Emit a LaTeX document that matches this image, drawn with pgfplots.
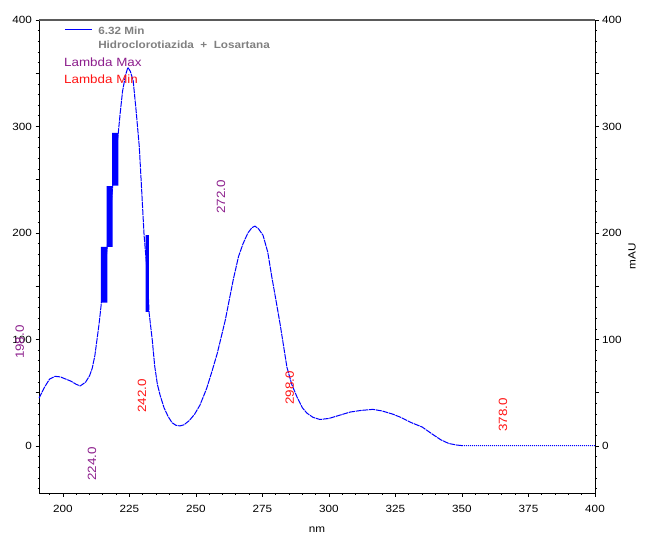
\documentclass[border=0pt]{standalone}
\usepackage{fontspec}
\setmainfont{Liberation Sans}[FakeStretch=1.12]
\usepackage{pgfplots}
\usepackage{pgfplotstable}
\pgfplotsset{compat=1.18}
\definecolor{curve}{RGB}{0,0,255}
\definecolor{lmax}{RGB}{140,30,140}
\definecolor{lmin}{RGB}{255,20,20}
\definecolor{leggray}{RGB}{128,128,128}
\definecolor{topgray}{RGB}{90,90,90}

\pgfplotstableread{
x y
191 45
193 55
195 63
197 65.5
199 65
201 63
203 61
205 58
206.5 56.5
208.5 60
210 66
211 73
212 85
212.8 100
213.6 115
214.3 131
215.5 160
216.7 188
217.7 215
218.7 244
219.7 270
220.8 294
221.5 312
222.4 333
223.5 348
224.4 355.5
225.3 352
226.4 343
227.5 315
228.7 281
229.6 240
230.5 198
231.7 162
232.4 125
233.6 99
234.5 75
235.5 58
236.5 48
238 36
239.5 28
241 22
242.5 19.5
244 19
245.5 20
247.5 24
249.5 30
251.5 38.5
254 54
256 70
258 87
261 118
264 156
266 178
267.7 190
269.5 200
271 205
272.2 206.5
273.5 204
275.2 198
277 182
278.5 159
280 138
281.6 115
283 93
284.2 74
286 58
288 46
290 36
291.7 31
294 27
296.6 25
300 26
304 29
308 32
312 33.5
316.5 34.5
320 33
324 30
327 27
331 22
335 18
339 11
342 6
345 2.5
348 1
350 0.5
}\spectrum

\pgfplotstableread{
x y
350 0.5
360 0.4
370 0.4
380 0.4
390 0.4
400 0.4
}\tail

\begin{document}
\begin{tikzpicture}
\pgfplotsset{
 base/.style={
  scale only axis, width=556bp, height=473bp,
  xmin=191, xmax=400, ymin=-44, ymax=400,
  axis line style={-, black, line width=0.8bp},
  tick align=outside,
  major tick length=3.5bp, minor tick length=1.5bp,
  every tick/.style={black, line width=0.8bp},
  every minor tick/.style={black, line width=0.8bp},
  tick label style={font=\fontsize{10.5}{12}\selectfont},
  /pgf/number format/assume math mode=true,
  ytick={0,50,...,400}, yticklabels={0,,100,,200,,300,,400},
  minor ytick={-40,-30,...,390},
  xtick={200,225,...,400},
  minor xtick={195,200,...,400},
 }
}
\begin{axis}[base, clip=false,
  axis y line*=left, axis x line*=bottom,
  xticklabel style={yshift=-5bp},
  xlabel={nm}, xlabel style={font=\fontsize{10.5}{12}\selectfont, at={(axis description cs:0.5,0)}, anchor=center, yshift=-37bp},
]
\coordinate (SW) at (rel axis cs:0,0);
\coordinate (NE) at (rel axis cs:1,1);
\draw[topgray, line width=1.6bp] (rel axis cs:0,1) -- (rel axis cs:1,1);

\addplot[fill=curve, draw=none] coordinates {(214.3,134.6) (216.7,134.6) (216.7,187) (214.3,187) (214.3,134.6)};
\addplot[fill=curve, draw=none] coordinates {(216.4,187) (218.7,187) (218.7,244) (216.4,244) (216.4,187)};
\addplot[fill=curve, draw=none] coordinates {(218.5,244.6) (220.8,244.6) (220.8,294) (218.5,294) (218.5,244.6)};
\addplot[fill=curve, draw=none] coordinates {(231.1,126) (232.3,126) (232.3,198) (231.1,198) (231.1,126)};

\addplot[curve, line width=1bp, dash pattern=on 6bp off 0.8bp] table[x=x,y=y] {\spectrum};
\addplot[curve, line width=1bp, dash pattern=on 1bp off 1bp] table[x=x,y=y] {\tail};

% legend
\draw[curve, line width=0.9bp] (axis cs:200.75,391.5) -- (axis cs:210.9,391.5);
\node[anchor=west, text=leggray, inner sep=0pt, font=\bfseries\fontsize{10.5}{12}\selectfont] at (axis cs:213.2,389.7) {6.32 Min};
\node[anchor=west, text=leggray, inner sep=0pt, font=\bfseries\fontsize{10.5}{12}\selectfont] at (axis cs:213.2,376.5) {Hidroclorotiazida \ + \ Losartana};
\node[anchor=west, text=lmax, inner sep=0pt, font=\fontsize{12}{14}\selectfont] at (axis cs:200.4,360.6) {Lambda Max};
\node[anchor=west, text=lmin, inner sep=0pt, font=\fontsize{12}{14}\selectfont] at (axis cs:200.4,344.6) {Lambda Min};

% peak labels
\begin{scope}[every node/.style={rotate=90, inner sep=0pt, font=\fontsize{12}{14}\selectfont}]
\node[text=lmax] at (axis cs:183.8,97.6) {198.0};
\node[text=lmax] at (axis cs:210.9,-16.9) {224.0};
\node[text=lmin] at (axis cs:229.7,47) {242.0};
\node[text=lmax] at (axis cs:259.4,233.8) {272.0};
\node[text=lmin] at (axis cs:285.3,54.5) {298.0};
\node[text=lmin] at (axis cs:365.4,29.1) {378.0};
\end{scope}
\end{axis}

\begin{axis}[base,
  axis y line*=right, axis x line=none,
  ylabel={mAU}, ylabel style={font=\fontsize{10.5}{12}\selectfont},
]
\end{axis}
\pgfresetboundingbox
\path ([shift={(-39bp,-43bp)}]SW) rectangle ([shift={(51bp,20bp)}]NE);
\end{tikzpicture}
\end{document}
